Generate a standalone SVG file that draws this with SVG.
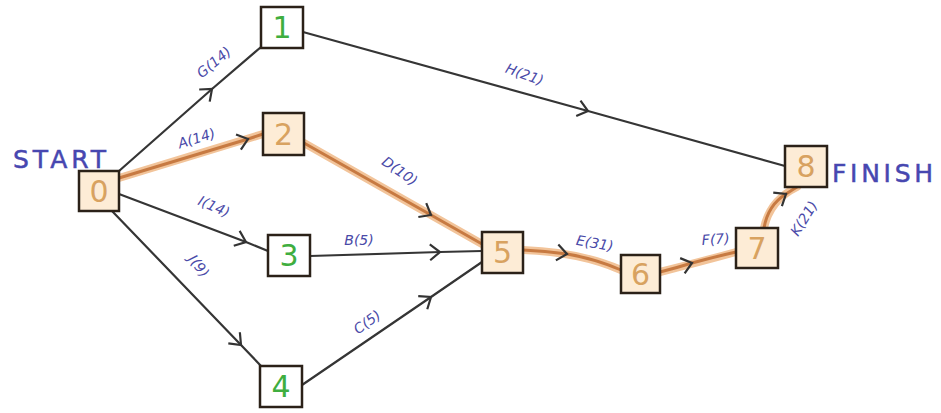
<svg xmlns="http://www.w3.org/2000/svg" width="941" height="413" viewBox="0 0 941 413">
<defs>
<style>
.e{fill:none;stroke:#353535;stroke-width:2.2}
.co{fill:none;stroke:#f2c49a;stroke-width:8;stroke-linecap:round}
.ci{fill:none;stroke:#c77a42;stroke-width:3;stroke-linecap:round}
.box{stroke:#2b2118;stroke-width:2.5}
.or{fill:#fdecd6}
.gr{fill:#ffffff}
.dn{font-family:"DejaVu Sans",sans-serif;font-size:30px;text-anchor:middle}
.do{fill:#d8a260}
.dg{fill:#3fae3f}
.lb{font-family:"DejaVu Sans",sans-serif;font-size:14px;fill:#4a4aa8;text-anchor:middle;font-style:italic}
.big{font-family:"DejaVu Sans",sans-serif;font-size:25px;fill:#4747b0;stroke:#4747b0;stroke-width:0.5}
</style>
<marker id="ch" viewBox="-12 -10 14 20" markerWidth="14" markerHeight="20" refX="0" refY="0" orient="auto" markerUnits="userSpaceOnUse">
<path d="M-10,-8 L0,0 L-10,8" fill="none" stroke="#333" stroke-width="2.2"/>
</marker>
</defs>
<rect width="941" height="413" fill="#ffffff"/>
<g id="connectors">
<path class="e" d="M119,171 L212,89 L261,47" marker-mid="url(#ch)"/>
<path class="e" d="M119,194 L246,242 L268,251" marker-mid="url(#ch)"/>
<path class="e" d="M112,211 L241,345 L262,367" marker-mid="url(#ch)"/>
<path class="e" d="M303,32 L588,111 L785,166" marker-mid="url(#ch)"/>
<path class="e" d="M310,256 L440,252 L482,251" marker-mid="url(#ch)"/>
<path class="e" d="M302,385 L431,297 L482,262" marker-mid="url(#ch)"/>
<path class="co" d="M119,178 L263,134"/>
<path class="ci" d="M119,178 L248,139 L263,134" marker-mid="url(#ch)"/>
<path class="co" d="M304,143 L482,244"/>
<path class="ci" d="M304,143 L431,215 L482,244" marker-mid="url(#ch)"/>
<path class="co" d="M523,250 Q580,252 621,270"/>
<path class="ci" d="M523,250 Q545,251 567,254 Q596,259 621,270" marker-mid="url(#ch)"/>
<path class="co" d="M660,272 Q700,262 736,252"/>
<path class="ci" d="M660,272 Q676,268 692,263 Q714,257 736,252" marker-mid="url(#ch)"/>
<path class="co" d="M764,228 Q770,200 797,187"/>
<path class="ci" d="M764,228 Q768,205 786,194 Q792,190 797,187" marker-mid="url(#ch)"/>
</g>
<g id="labels">
<text class="lb" transform="translate(217,66) rotate(-40)">G(14)</text>
<text class="lb" transform="translate(198,143) rotate(-17)">A(14)</text>
<text class="lb" transform="translate(212,211) rotate(24)">I(14)</text>
<text class="lb" transform="translate(195,269) rotate(52)">J(9)</text>
<text class="lb" transform="translate(523,79) rotate(20)">H(21)</text>
<text class="lb" transform="translate(397,175) rotate(35)">D(10)</text>
<text class="lb" transform="translate(359,245)">B(5)</text>
<text class="lb" transform="translate(370,326) rotate(-36)">C(5)</text>
<text class="lb" transform="translate(594,248) rotate(10)">E(31)</text>
<text class="lb" transform="translate(716,244) rotate(-4)">F(7)</text>
<text class="lb" transform="translate(808,221) rotate(-58)">K(21)</text>
<text class="big" x="13" y="168" letter-spacing="4">START</text>
<text class="big" x="832" y="182" letter-spacing="3.7">FINISH</text>
</g>
<g id="n0"><rect class="box or" x="79" y="171" width="40" height="40"/><text class="dn do" x="99" y="202">0</text></g>
<g id="n1"><rect class="box gr" x="261" y="7" width="42" height="41"/><text class="dn dg" x="282" y="38">1</text></g>
<g id="n2"><rect class="box or" x="263" y="113" width="41" height="42"/><text class="dn do" x="283.5" y="145">2</text></g>
<g id="n3"><rect class="box gr" x="268" y="235" width="42" height="41"/><text class="dn dg" x="289" y="266">3</text></g>
<g id="n4"><rect class="box gr" x="260" y="366" width="42" height="41"/><text class="dn dg" x="281" y="397">4</text></g>
<g id="n5"><rect class="box or" x="482" y="232" width="41" height="41"/><text class="dn do" x="502.5" y="263">5</text></g>
<g id="n6"><rect class="box or" x="621" y="255" width="39" height="38"/><text class="dn do" x="640.5" y="285">6</text></g>
<g id="n7"><rect class="box or" x="736" y="228" width="42" height="40"/><text class="dn do" x="757" y="259">7</text></g>
<g id="n8"><rect class="box or" x="785" y="146" width="42" height="41"/><text class="dn do" x="806" y="177">8</text></g>
</svg>
